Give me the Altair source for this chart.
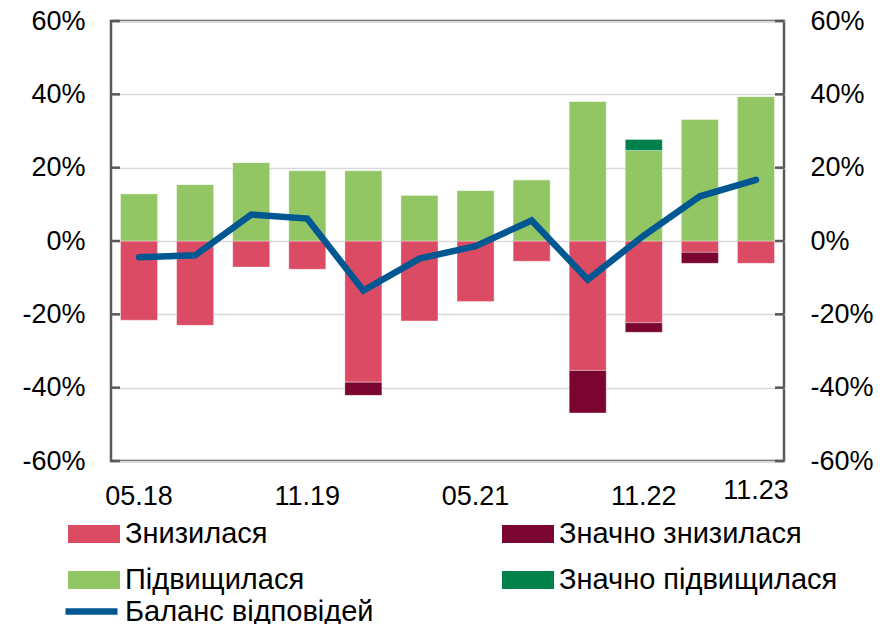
import altair as alt
import pandas as pd

categories = ["05.18", "11.18", "05.19", "11.19", "05.20", "11.20",
              "05.21", "11.21", "05.22", "11.22", "05.23", "11.23"]
decreased = [-21.6, -23.0, -7.1, -7.7, -38.5, -21.8, -16.5, -5.5, -35.3, -22.3, -3.1, -6.1]
sig_decreased = [0, 0, 0, 0, -3.6, 0, 0, 0, -11.6, -2.6, -3.0, 0]
increased = [12.9, 15.4, 21.4, 19.2, 19.2, 12.5, 13.8, 16.7, 38.1, 24.7, 33.2, 39.4]
sig_increased = [0, 0, 0, 0, 0, 0, 0, 0, 0, 3.0, 0, 0]
balance = [-4.4, -3.9, 7.2, 6.1, -13.5, -4.8, -1.4, 5.6, -10.5, 1.5, 12.2, 16.7]
shown_labels = ["05.18", "11.19", "05.21", "11.22", "11.23"]
tick_values = [-60, -40, -20, 0, 20, 40, 60]

# legend is laid out column by column: first column, then second column
series_names = ["Знизилася", "Підвищилася", "Значно знизилася", "Значно підвищилася"]
series_colors = ["#DC4B64", "#92C664", "#7A0530", "#00804A"]
stack_order = {"Знизилася": 0, "Значно знизилася": 1, "Підвищилася": 0, "Значно підвищилася": 1}
line_name = "Баланс відповідей"
line_color = "#005792"

FONT = "Liberation Sans"

rows = []
for i, c in enumerate(categories):
    rows.append({"cat": c, "series": "Знизилася", "value": decreased[i]})
    rows.append({"cat": c, "series": "Значно знизилася", "value": sig_decreased[i]})
    rows.append({"cat": c, "series": "Підвищилася", "value": increased[i]})
    rows.append({"cat": c, "series": "Значно підвищилася", "value": sig_increased[i]})
bars_df = pd.DataFrame(rows)
bars_df["ord"] = bars_df["series"].map(stack_order)
line_df = pd.DataFrame({"cat": categories, "value": balance, "series": [line_name] * len(categories)})
ticks_df = pd.DataFrame({"v": tick_values})

yscale = alt.Scale(domain=[-60, 60], nice=False, zero=False)
label_test = " || ".join(f"datum.value === '{l}'" for l in shown_labels)

x_enc = alt.X(
    "cat:N", sort=categories, title=None,
    scale=alt.Scale(paddingInner=0.34, paddingOuter=0.17),
    axis=alt.Axis(
        labelExpr=f"({label_test}) ? datum.value : ''",
        labelAngle=0, ticks=False, domain=False, grid=False,
        labelFont=FONT, labelFontSize=27, labelColor="#000000",
        labelPadding={"condition": {"test": "datum.value === '11.23'", "value": 16}, "value": 22},
        labelOverlap=False,
    ),
)

bars = alt.Chart(bars_df).mark_bar(stroke="#ffffff", strokeOpacity=0.35, strokeWidth=1).encode(
    x=x_enc,
    y=alt.Y("value:Q", stack="zero", scale=yscale, title=None,
            axis=alt.Axis(values=tick_values, labelExpr="datum.value + '%'", grid=True,
                          gridColor="#D9D9D9", gridWidth=1.5, ticks=False, domain=False,
                          labelFont=FONT, labelFontSize=27, labelColor="#000000",
                          labelPadding=26)),
    color=alt.Color("series:N", scale=alt.Scale(domain=series_names, range=series_colors),
                    legend=alt.Legend(orient="none", legendX=-43, legendY=487, columns=2,
                                      columnPadding=197, rowPadding=5, title=None,
                                      symbolType="M-1,-0.35H1V0.35H-1Z", symbolSize=2704,
                                      symbolStrokeWidth=0, labelFont=FONT, labelFontSize=29,
                                      labelColor="#000000", labelLimit=400, labelOffset=5)),
    order=alt.Order("ord:Q"),
)

line = alt.Chart(line_df).mark_line(strokeWidth=6.5, strokeCap="round").encode(
    x=x_enc,
    y=alt.Y("value:Q", scale=yscale, axis=None),
    stroke=alt.Stroke("series:N", scale=alt.Scale(domain=[line_name], range=[line_color]),
                      legend=alt.Legend(orient="none", legendX=-49, legendY=561, title=None,
                                        symbolType="stroke", symbolSize=2704,
                                        symbolStrokeWidth=6.5, labelFont=FONT, labelFontSize=29,
                                        labelColor="#000000", labelLimit=400, labelOffset=4)),
)

ticks_left = alt.Chart(ticks_df).mark_rule(color="#595959", strokeWidth=2.5).encode(
    y=alt.Y("v:Q", scale=yscale, axis=None),
    x=alt.value(0), x2=alt.value(9),
)

ticks_right = alt.Chart(ticks_df).mark_rule(color="#595959", strokeWidth=2.5).encode(
    y=alt.Y("v:Q", scale=yscale, title=None,
            axis=alt.Axis(orient="right", values=tick_values, labelExpr="datum.value + '%'",
                          grid=False, ticks=False, domain=False, labelFont=FONT,
                          labelFontSize=27, labelColor="#000000", labelPadding=26)),
    x=alt.value(664), x2=alt.value(673),
)

chart = alt.layer(bars, line, ticks_left, ticks_right).resolve_scale(
    y="shared"
).resolve_axis(
    y="independent"
).resolve_legend(
    color="independent", stroke="independent"
).properties(
    width=673, height=440,
    autosize=alt.AutoSizeParams(type="none"),
    padding={"left": 103, "top": 13, "right": 89, "bottom": 163},
).configure_view(
    stroke="#595959", strokeWidth=2.5
)

chart.save("out.html", embed_options={"renderer": "svg", "actions": False})
